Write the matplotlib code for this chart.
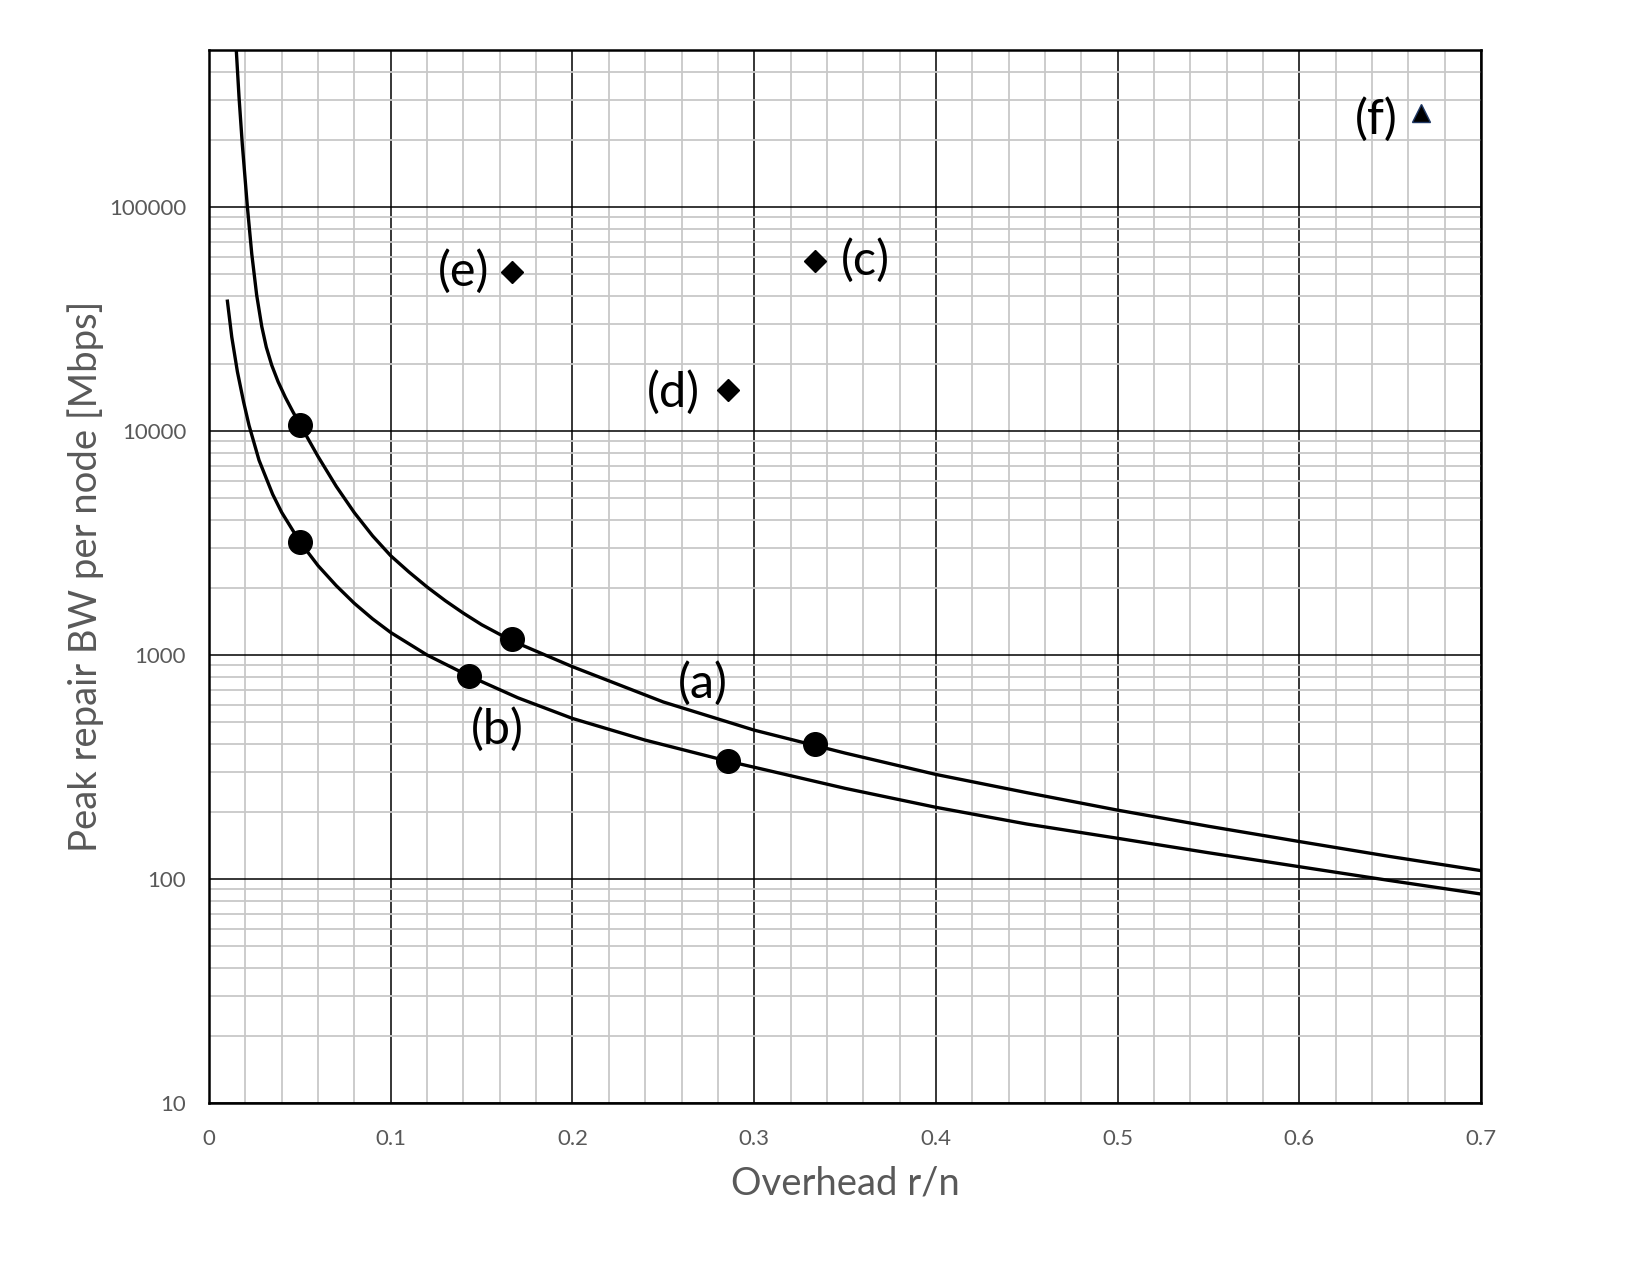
import matplotlib
matplotlib.use("Agg")
import matplotlib.pyplot as plt
from matplotlib.ticker import FixedLocator, NullFormatter

# ---- data ----
curve_a_x = [0.0147, 0.0165, 0.0183, 0.0211, 0.0235, 0.0262, 0.0290, 0.0315, 0.0345, 0.0380,
             0.0420, 0.0460, 0.0495, 0.0600, 0.0700, 0.0800, 0.0900, 0.1000, 0.1100, 0.1200,
             0.1300, 0.1400, 0.1500, 0.1664, 0.2000, 0.2500, 0.3000, 0.3500, 0.4000, 0.4500,
             0.5000, 0.5500, 0.6000, 0.6500, 0.7000]
curve_a_y = [550000, 309000, 190500, 100000, 61800, 40500, 29300, 23690, 19660, 16600,
             14130, 12250, 10890, 7690, 5662, 4315, 3404, 2773, 2348, 2012,
             1748, 1537, 1366, 1160, 887, 617, 462, 365, 293, 243,
             203, 172, 147, 126, 109]

curve_b_x = [0.0101, 0.0125, 0.0156, 0.0190, 0.0220, 0.0275, 0.0350, 0.0400, 0.0499, 0.0600,
             0.0700, 0.0800, 0.0900, 0.1000, 0.1200, 0.1427, 0.1700, 0.2000, 0.2400, 0.2854,
             0.3000, 0.3500, 0.4000, 0.4500, 0.5000, 0.5500, 0.6000, 0.6500, 0.7000]
curve_b_y = [38000, 26300, 18400, 13500, 10600, 7410, 5220, 4330, 3210, 2505,
             2040, 1700, 1450, 1260, 1000, 809, 644, 521, 417, 336,
             315.5, 254, 209, 176, 152, 131, 113.5, 98.4, 85.7]

circle_x = [0.05, 0.05, 0.1667, 0.1429, 0.2857, 0.3333]
circle_y = [10600, 3200, 1180, 810, 336, 400]

diamond_x = [0.1667, 0.3333, 0.2857]
diamond_y = [51500, 57400, 15200]

triangle_x = [0.6667]
triangle_y = [264000]

label_texts = ["(a)", "(b)", "(c)", "(d)", "(e)", "(f)"]
label_x = [0.2719, 0.1589, 0.361, 0.2556, 0.1403, 0.6425]
label_y = [745, 467, 58000, 14900, 51500, 247000]

x_ticks = [0, 0.1, 0.2, 0.3, 0.4, 0.5, 0.6, 0.7]
x_tick_labels = ["0", "0.1", "0.2", "0.3", "0.4", "0.5", "0.6", "0.7"]
y_ticks = [10, 100, 1000, 10000, 100000]
y_tick_labels = ["10", "100", "1000", "10000", "100000"]

# ---- figure ----
plt.rcParams['font.family'] = ['Lato', 'DejaVu Sans']
fig = plt.figure(figsize=(16.5, 12.75), dpi=100)
ax = fig.add_axes([0.1267, 0.1349, 0.8976 - 0.1267, 0.9604 - 0.1349])

ax.set_yscale('log')
ax.set_xlim(0, 0.7)
ax.set_ylim(10, 500000)

# grid
ax.xaxis.set_major_locator(FixedLocator(x_ticks))
ax.xaxis.set_minor_locator(FixedLocator([i * 0.02 for i in range(36)]))
ax.yaxis.set_major_locator(FixedLocator(y_ticks))
ax.yaxis.set_minor_locator(FixedLocator([m * 10 ** e for e in range(1, 6) for m in range(2, 10)]))
ax.yaxis.set_minor_formatter(NullFormatter())
ax.set_xticklabels(x_tick_labels)
ax.set_yticklabels(y_tick_labels)
ax.grid(which='minor', color='#c8c8c8', linewidth=1.3, zorder=0)
ax.grid(which='major', color='black', linewidth=1.1, zorder=1)
ax.set_axisbelow(True)

ax.tick_params(which='both', length=0)
ax.tick_params(axis='x', pad=18.5, labelsize=16, labelcolor='#595959')
ax.tick_params(axis='y', pad=16.5, labelsize=16, labelcolor='#595959')
for s in ax.spines.values():
    s.set_linewidth(1.8)
    s.set_color('black')

# curves
ax.plot(curve_a_x, curve_a_y, color='black', linewidth=2.4, zorder=3, clip_on=True)
ax.plot(curve_b_x, curve_b_y, color='black', linewidth=2.4, zorder=3, clip_on=True)

# markers
ax.plot(circle_x, circle_y, 'o', color='black', markersize=17, zorder=4, linestyle='none')
ax.plot(diamond_x, diamond_y, 'D', color='black', markersize=11, zorder=4, linestyle='none')
ax.plot(triangle_x, triangle_y, '^', markerfacecolor='black', markeredgecolor='#1f3864',
        markersize=13, zorder=4, linestyle='none')

for t, lx, ly in zip(label_texts, label_x, label_y):
    ax.text(lx, ly, t, fontsize=35, ha='center', va='center', color='black', zorder=5)

ax.set_xlabel("Overhead r/n", fontsize=27.5, color='#595959', labelpad=12)
ax.set_ylabel("Peak repair BW per node [Mbps]", fontsize=27.5, color='#595959', labelpad=3.5)

fig.savefig("out.png", dpi=100)
